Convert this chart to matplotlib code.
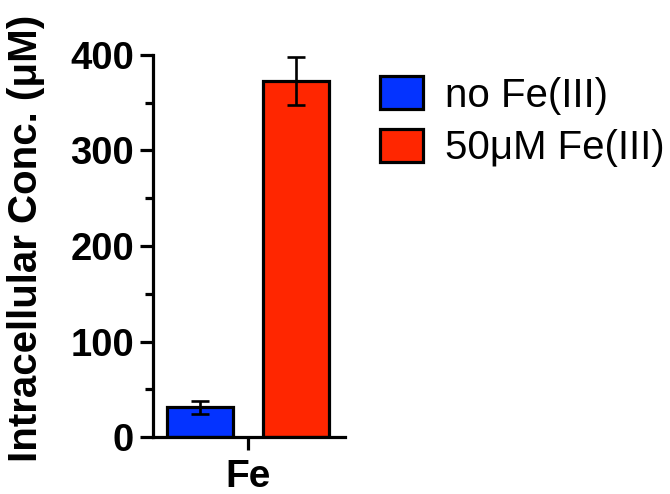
import matplotlib
matplotlib.use("Agg")
import matplotlib.pyplot as plt
import numpy as np

plt.rcParams['font.family'] = ['Liberation Sans', 'DejaVu Sans']

groups = ["Fe"]
series = ["no Fe(III)", "50\u03bcM Fe(III)"]
means = [31, 373]
errors = [7, 25]
colors = ["#0433FF", "#FF2600"]

yticks = [0, 100, 200, 300, 400]

fig = plt.figure(figsize=(6.7, 4.94), dpi=100)
ax = fig.add_axes([153/670, 1 - 437/494, 192/670, 382/494])

lw = 2.3
offsets = [-0.5, 0.5]
width = 0.68
x0 = np.arange(len(groups))
for off, m, e, c, lab in zip(offsets, means, errors, colors, series):
    ax.bar(x0 + off, [m], width=width, color=c, edgecolor="black",
           linewidth=lw, label=lab, zorder=2)
    ax.errorbar(x0 + off, [m], yerr=[e], fmt="none", ecolor="black",
                elinewidth=1.9, capsize=6.5, capthick=1.9, zorder=3)

ax.set_xlim(-0.99, 1.01)
ax.set_ylim(0, 400)
ax.set_yticks(yticks)
ax.set_yticks([50, 150, 250, 350], minor=True)
ax.set_xticks(x0)
ax.set_xticklabels(groups, fontsize=28, fontweight="bold")

for s in ["top", "right"]:
    ax.spines[s].set_visible(False)
for s in ["left", "bottom"]:
    ax.spines[s].set_linewidth(lw)
ax.spines["left"].set_bounds(0, 400)

ax.tick_params(axis="y", which="major", length=9.5, width=lw,
               labelsize=27.5, pad=4)
ax.tick_params(axis="y", which="minor", length=6, width=lw)
ax.tick_params(axis="x", which="major", length=9.5, width=lw, pad=6)
for t in ax.get_yticklabels():
    t.set_fontweight("bold")

ax.set_ylabel("Intracellular Conc. (\u03bcM)", fontsize=29,
              fontweight="bold")
ax.yaxis.set_label_coords(-0.56, 0.52)

leg = ax.legend(loc="upper left", bbox_to_anchor=(380/670, 1 - 76/494),
                bbox_transform=fig.transFigure, frameon=False,
                fontsize=29, handlelength=1.07, handleheight=0.9,
                handletextpad=0.55, labelspacing=0.35, borderpad=0,
                borderaxespad=0)

fig.savefig("out.png", dpi=100)
